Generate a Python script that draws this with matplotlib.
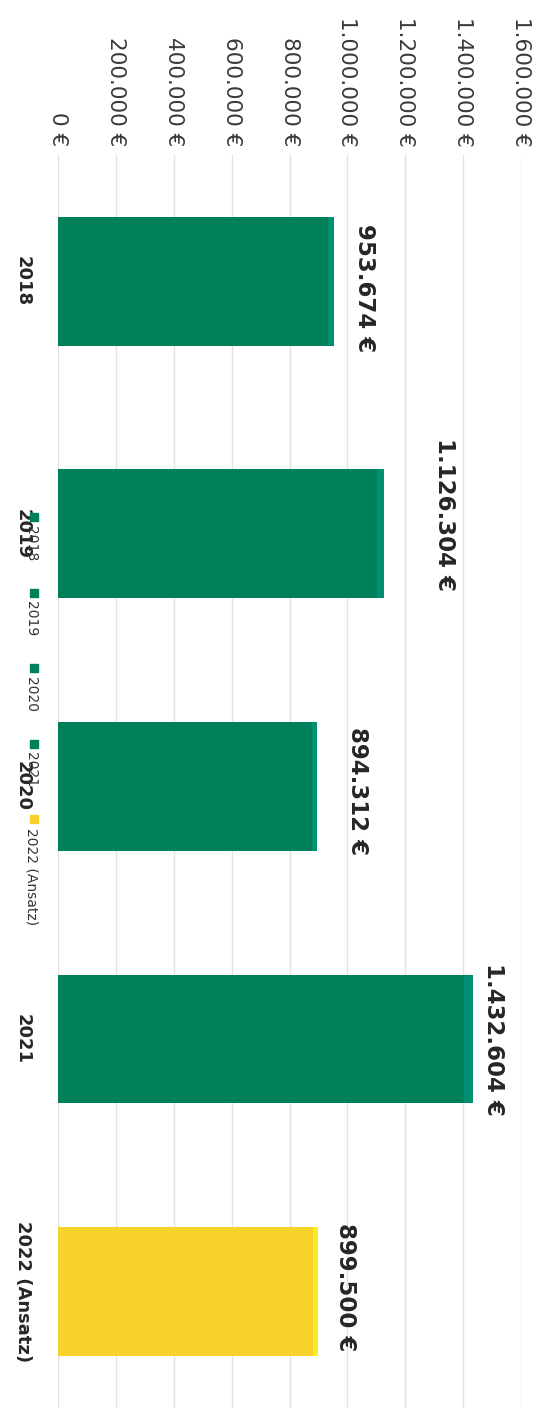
import matplotlib.pyplot as plt
from matplotlib.lines import Line2D

# Jahreswerte in Euro
years = ['2018', '2019', '2020', '2021', '2022 (Ansatz)']
amounts = [953674, 1126304, 894312, 1432604, 899500]
bar_colors = ['#00805a', '#00805a', '#00805a', '#00805a', '#f6d22a']
edge_colors = ['#008f72', '#008f72', '#008f72', '#008f72', '#fbec22']
value_ticks = [0, 200000, 400000, 600000, 800000, 1000000, 1200000, 1400000, 1600000]

# Verschiebung der Wertbeschriftungen (Punkte)
label_shift = [(14, -5), (35, 14), (21, -3), (7, 0), (11, 3)]


def euro(v):
    return '{:,.0f}'.format(v).replace(',', '.')


fig = plt.figure(figsize=(5.48, 14.08), dpi=100)
ax = fig.add_axes([58 / 548, -0.007, 463 / 548, 0.897])

pos = list(range(len(years)))
ax.barh(pos, amounts, height=0.51, color=bar_colors, zorder=2)
# schmale hellere Kante am Balkenende
ax.barh(pos, [a * 0.02 for a in amounts], left=[a * 0.98 for a in amounts],
        height=0.51, color=edge_colors, zorder=3)

ax.set_xlim(0, 1600000)
ax.set_ylim(len(years) - 0.5, -0.5)

ax.set_xticks(value_ticks)
ax.set_xticklabels([euro(v) + ' €' for v in value_ticks])
ax.xaxis.tick_top()
ax.tick_params(axis='x', length=0, pad=6, labelsize=15.5, labelcolor='#3a3a3a')
for t in ax.get_xticklabels():
    t.set_rotation(-90)
    t.set_va('bottom')
    t.set_ha('center')

ax.set_yticks(pos)
ax.set_yticklabels(years)
ax.tick_params(axis='y', length=0, pad=19, labelsize=13, labelcolor='#262626')
for t in ax.get_yticklabels():
    t.set_rotation(-90)
    t.set_fontweight('bold')
    t.set_va('center')
    t.set_ha('right')

ax.grid(axis='x', color='#e2e2e2', lw=1, zorder=0)
for s in ax.spines.values():
    s.set_visible(False)

for i, a in enumerate(amounts):
    ax.annotate(euro(a) + ' €', (a, i), xytext=label_shift[i], textcoords='offset points',
                rotation=-90, ha='left', va='center', fontsize=16.5,
                fontweight='bold', color='#262626', zorder=4)

# Legende, um 90 Grad gedreht
leg_x = 31 / 548
leg_y0 = 1 - 517 / 1408
step = 75.5 / 1408
for i, (y, c) in enumerate(zip(years, bar_colors)):
    yy = leg_y0 - i * step
    fig.add_artist(Line2D([leg_x + 3 / 548], [yy], marker='s', markersize=6,
                          color=c, transform=fig.transFigure))
    fig.text(leg_x, yy - 9 / 1408, y, rotation=-90, ha='center', va='top',
             fontsize=10, color='#333333')

fig.savefig('out.png', dpi=100)
